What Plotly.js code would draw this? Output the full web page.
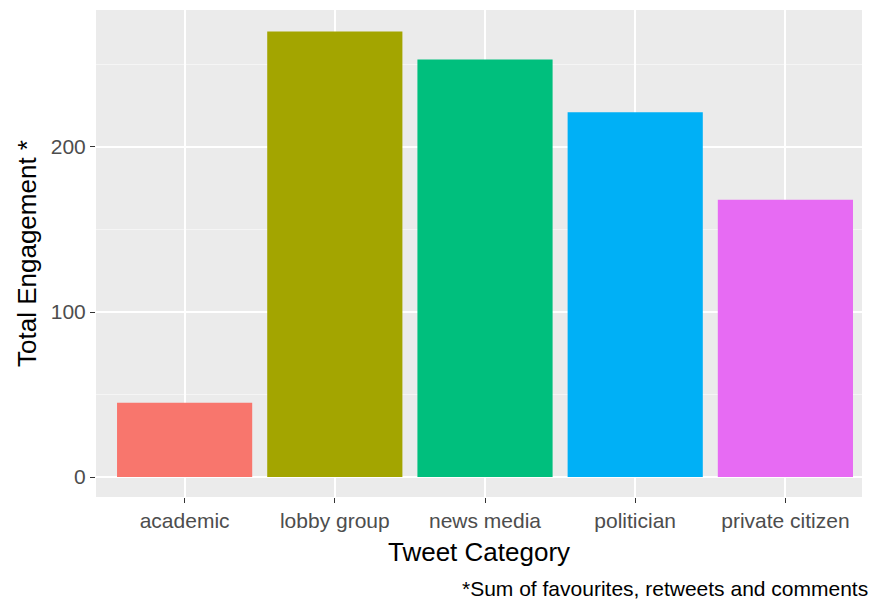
<!DOCTYPE html>
<html>
<head>
<meta charset="utf-8">
<script src="https://cdn.plot.ly/plotly-3.0.1.min.js"></script>
<style>html,body{margin:0;padding:0;background:#fff;}#chart{width:875px;height:602px;}</style>
</head>
<body>
<div id="chart"></div>
<script>
var categories = ["academic", "lobby group", "news media", "politician", "private citizen"];
var engagement = [45, 270, 253, 221, 168];
var barColors = ["#F8766D", "#A3A500", "#00BF7D", "#00B0F6", "#E76BF3"];
var yTicks = [0, 100, 200];

var trace = {
  type: "bar",
  x: categories,
  y: engagement,
  marker: {color: barColors, line: {width: 0}},
  width: 0.9,
  hoverinfo: "x+y"
};

var layout = {
  width: 875,
  height: 602,
  margin: {l: 96, r: 13, t: 10, b: 105},
  paper_bgcolor: "#ffffff",
  plot_bgcolor: "#EBEBEB",
  font: {family: "Liberation Sans, Arial, sans-serif", color: "#4D4D4D", size: 21},
  showlegend: false,
  xaxis: {
    type: "category",
    range: [-0.59, 4.51],
    showgrid: true,
    gridcolor: "#ffffff",
    gridwidth: 2,
    zeroline: false,
    showline: false,
    ticks: "outside",
    ticklen: 5,
    tickwidth: 1,
    tickcolor: "#333333",
    tickfont: {size: 21, color: "#4D4D4D"},
    title: {text: "Tweet Category", font: {size: 26, color: "#000000"}, standoff: 11}
  },
  yaxis: {
    range: [-12.1, 283],
    tickvals: yTicks,
    ticktext: yTicks.map(String),
    showgrid: true,
    gridcolor: "#ffffff",
    gridwidth: 2,
    zeroline: false,
    showline: false,
    ticks: "outside",
    ticklen: 5,
    tickwidth: 1,
    tickcolor: "#333333",
    tickfont: {size: 21, color: "#4D4D4D"},
    minor: {tickvals: [50, 150, 250], showgrid: true, gridcolor: "#F5F5F5", gridwidth: 1, ticks: ""},
    title: {text: "Total Engagement *", font: {size: 26, color: "#000000"}, standoff: 6}
  },
  annotations: [{
    text: "*Sum of favourites, retweets and comments",
    xref: "paper", yref: "paper",
    x: 1.01, y: -0.187,
    xanchor: "right", yanchor: "middle",
    showarrow: false,
    font: {size: 21, color: "#000000"}
  }]
};

Plotly.newPlot("chart", [trace], layout, {displayModeBar: false, staticPlot: true});
</script>
</body>
</html>
